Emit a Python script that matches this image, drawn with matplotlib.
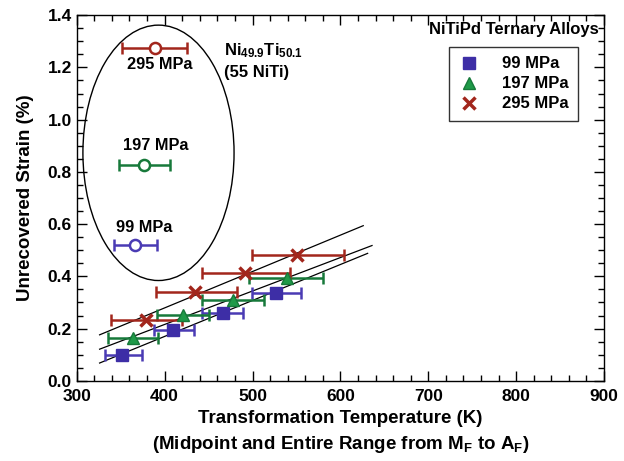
import numpy as np
import matplotlib
matplotlib.use("Agg")
import matplotlib.pyplot as plt
from matplotlib.patches import Ellipse
from matplotlib.ticker import MultipleLocator

plt.rcParams['font.family'] = ['Liberation Sans', 'DejaVu Sans']
plt.rcParams['font.weight'] = 'bold'
plt.rcParams['mathtext.fontset'] = 'custom'
plt.rcParams['mathtext.rm'] = 'Liberation Sans:bold'
plt.rcParams['mathtext.bf'] = 'Liberation Sans:bold'
plt.rcParams['mathtext.it'] = 'Liberation Sans:bold'

# NiTiPd ternary alloys: midpoint temperature, strain, M_F and A_F
temp_99 = [352, 410, 466, 527]
strain_99 = [0.10, 0.195, 0.261, 0.338]
lo_99 = [332, 388, 443, 499]
hi_99 = [374, 433, 489, 555]

temp_197 = [364, 421, 478, 539]
strain_197 = [0.163, 0.252, 0.31, 0.395]
lo_197 = [336, 391, 443, 496]
hi_197 = [393, 451, 513, 580]

temp_295 = [379, 435, 491, 551]
strain_295 = [0.233, 0.339, 0.414, 0.482]
lo_295 = [339, 390, 442, 499]
hi_295 = [420, 482, 543, 604]

# Ni49.9Ti50.1 binary
niti_temp = [366, 377, 389]
niti_strain = [0.52, 0.826, 1.276]
niti_lo = [342, 348, 352]
niti_hi = [391, 406, 426]
niti_labels = ["99 MPa", "197 MPa", "295 MPa"]

# fit lines (end points)
fit_x = [[326, 626], [326, 636], [326, 631]]
fit_y = [[0.176, 0.594], [0.121, 0.518], [0.068, 0.488]]

blue = "#4a3bb4"
green = "#17793a"
red = "#a2261c"

fig = plt.figure(figsize=(6.24, 4.61), dpi=100)
ax = fig.add_axes([0.123, 0.174, 0.845, 0.793])

for fx, fy in zip(fit_x, fit_y):
    ax.plot(fx, fy, color="black", lw=0.9, zorder=1)

series = [
    (temp_99, strain_99, lo_99, hi_99, blue, "s", "99 MPa"),
    (temp_197, strain_197, lo_197, hi_197, green, "^", "197 MPa"),
    (temp_295, strain_295, lo_295, hi_295, red, "x", "295 MPa"),
]
for t, s, lo, hi, c, m, lab in series:
    t = np.array(t)
    xerr = [t - np.array(lo), np.array(hi) - t]
    ax.errorbar(t, s, xerr=xerr, fmt="none", ecolor=c, elinewidth=1.8,
                capsize=4, capthick=1.8, zorder=2)
    if m == "x":
        ax.plot(t, s, ls="none", marker=m, color=c, ms=8, mew=2.5, zorder=3, label=lab)
    elif m == "^":
        ax.plot(t, s, ls="none", marker=m, color="#1f9a48", mec=c, ms=8, zorder=3, label=lab)
    else:
        ax.plot(t, s, ls="none", marker=m, color="#3d2ea6", mec="#3d2ea6", ms=8, zorder=3, label=lab)

colors = [blue, green, red]
label_pos = [(377, 0.586), (390, 0.90), (394, 1.21)]
for i in range(3):
    ax.errorbar(niti_temp[i], niti_strain[i],
                xerr=[[niti_temp[i] - niti_lo[i]], [niti_hi[i] - niti_temp[i]]],
                fmt="o", color=colors[i], mfc="white", mec=colors[i], mew=1.8, ms=8,
                elinewidth=1.8, capsize=4, capthick=1.8, zorder=3)
    ax.text(label_pos[i][0], label_pos[i][1], niti_labels[i], ha="center", va="center",
            fontsize=11.8, fontweight="bold")

ax.add_patch(Ellipse((393, 0.873), 172, 0.978, fill=False, ec="black", lw=1.0, zorder=1))

ax.text(468, 1.265, r"Ni$_{49.9}$Ti$_{50.1}$", fontsize=12, ha="left", va="center")
ax.text(468, 1.18, "(55 NiTi)", fontsize=12, ha="left", va="center")

ax.text(0.99, 0.96, "NiTiPd Ternary Alloys", transform=ax.transAxes, ha="right",
        va="center", fontsize=12, fontweight="bold")
leg = ax.legend(loc="upper right", bbox_to_anchor=(0.966, 0.935), frameon=True,
                fancybox=False, edgecolor="black", fontsize=12, handlelength=1.2,
                handletextpad=1.4, borderpad=0.55, labelspacing=0.3)
leg.get_frame().set_linewidth(1.0)

ax.set_xlim(300, 900)
ax.set_ylim(0, 1.4)
ax.xaxis.set_major_locator(MultipleLocator(100))
ax.xaxis.set_minor_locator(MultipleLocator(20))
ax.yaxis.set_major_locator(MultipleLocator(0.2))
ax.yaxis.set_minor_locator(MultipleLocator(0.05))
ax.yaxis.set_major_formatter(matplotlib.ticker.FormatStrFormatter("%.1f"))
ax.tick_params(which="both", direction="in", top=True, right=True, labelsize=12.5)
ax.tick_params(which="major", length=7, width=1.0)
ax.tick_params(which="minor", length=4, width=1.0)
ax.tick_params(axis="x", which="major", pad=6)
for sp in ax.spines.values():
    sp.set_linewidth(1.0)

ax.set_xlabel("Transformation Temperature (K)\n"
              r"(Midpoint and Entire Range from M$_\mathrm{F}$ to A$_\mathrm{F}$)",
              fontsize=13.5, fontweight="bold", linespacing=1.5, labelpad=4)
ax.set_ylabel("Unrecovered Strain (%)", fontsize=13.5, fontweight="bold", labelpad=10)

fig.savefig("out.png", dpi=100)
